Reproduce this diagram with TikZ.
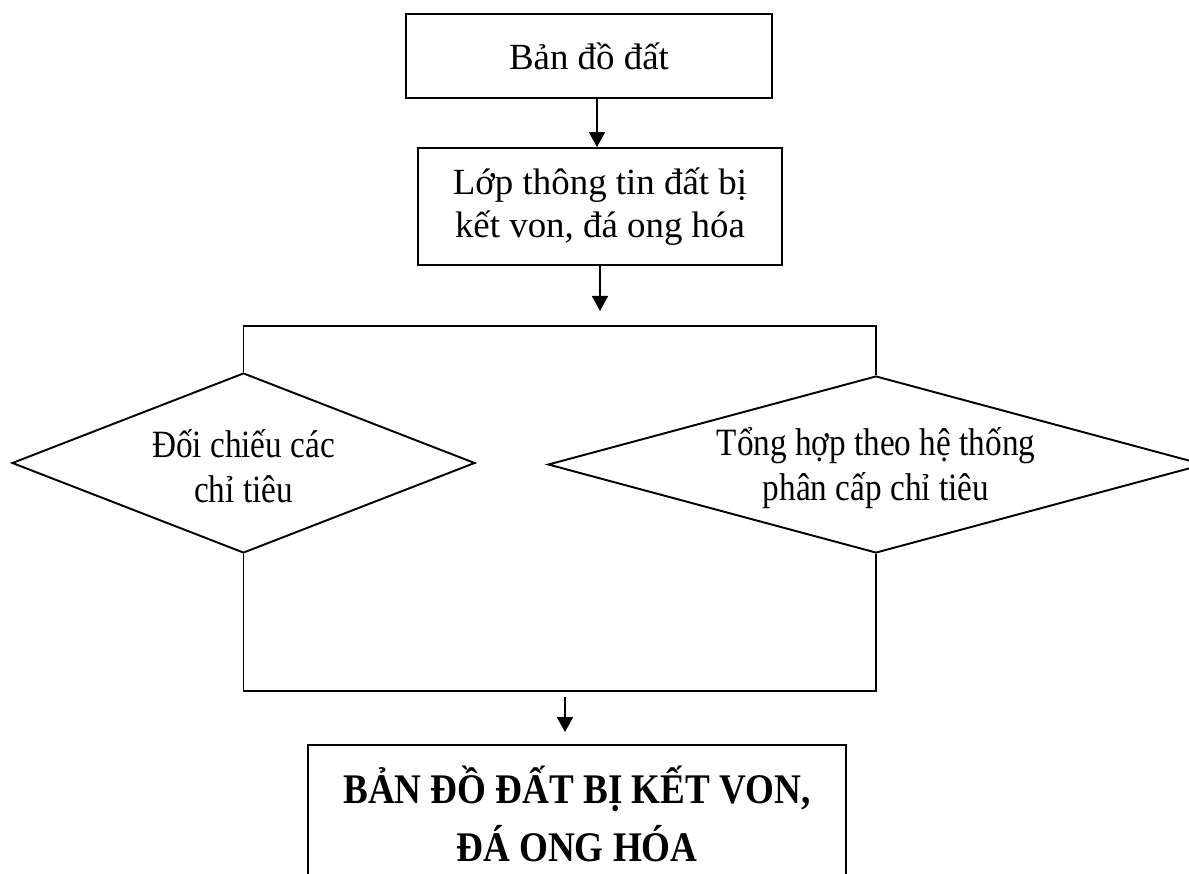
\documentclass[tikz,border=0pt]{standalone}
\usepackage{fontspec}
\setmainfont{Liberation Serif}
\newfontfamily\narrowserif[FakeStretch=0.86]{Liberation Serif}
\newfontfamily\tallserif[FakeStretch=0.88]{Liberation Serif}
\usetikzlibrary{calc,shapes.geometric,arrows.meta}

\begin{document}
\begin{tikzpicture}[x=0.02cm, y=-0.02cm,
		ln/.style={line width=1.1pt},
		arr/.style={ln, -{Triangle[length=0.3cm, width=0.32cm]}},
		stepbox/.style={draw, ln, rectangle, align=center, inner sep=0pt,
			font=\fontsize{21}{24.5}\selectfont},
		choice/.style={draw, ln, diamond, align=center, inner sep=0pt,
			font=\narrowserif\fontsize{22}{25.6}\selectfont}]
			%%%%% START %%%%%
			
			\useasboundingbox (0, 0) rectangle (1189, 874);
			\clip (0, 0) rectangle (1189, 874);
			
			\node[stepbox, minimum width=7.32cm, minimum height=1.68cm] (bando) at (589, 56) {Bản đồ đất};
			\node[stepbox, minimum width=7.28cm, minimum height=2.34cm] (lop) at (600, 206.5) {Lớp thông tin đất bị\\kết von, đá ong hóa};
			
			\node[choice, minimum width=9.26cm, minimum height=3.6cm, aspect=2.57] (doichieu) at (243.5, 463) {\rule{0pt}{0.7cm}Đối chiếu các\\chỉ tiêu};
			\node[choice, minimum width=13.12cm, minimum height=3.54cm, aspect=3.7] (tonghop) at (876, 464.5) {\rule{0pt}{0.7cm}Tổng hợp theo hệ thống\\phân cấp chỉ tiêu};
			
			\node[stepbox, minimum width=10.76cm, minimum height=2.76cm,
				font=\tallserif\bfseries\fontsize{24}{33}\selectfont] (ketqua) at (577, 814) {BẢN ĐỒ ĐẤT BỊ KẾT VON,\\ĐÁ ONG HÓA};
			
			\draw[arr] ([xshift=0.16cm]bando.south) -- ([xshift=0.16cm]bando.south |- lop.north);
			\draw[arr] (lop.south) -- ++(0, 45);
			
			\draw[ln] (doichieu.north) -- ++(0, -46) -| (tonghop.north);
			\draw[ln] (doichieu.south) -- ++(0, 137) -| (tonghop.south);
			
			\draw[arr] ($(ketqua.north)+(-12, -47)$) -- ++(0, 35);
			
			%%%%% END %%%%%
		\end{tikzpicture}
\end{document}
